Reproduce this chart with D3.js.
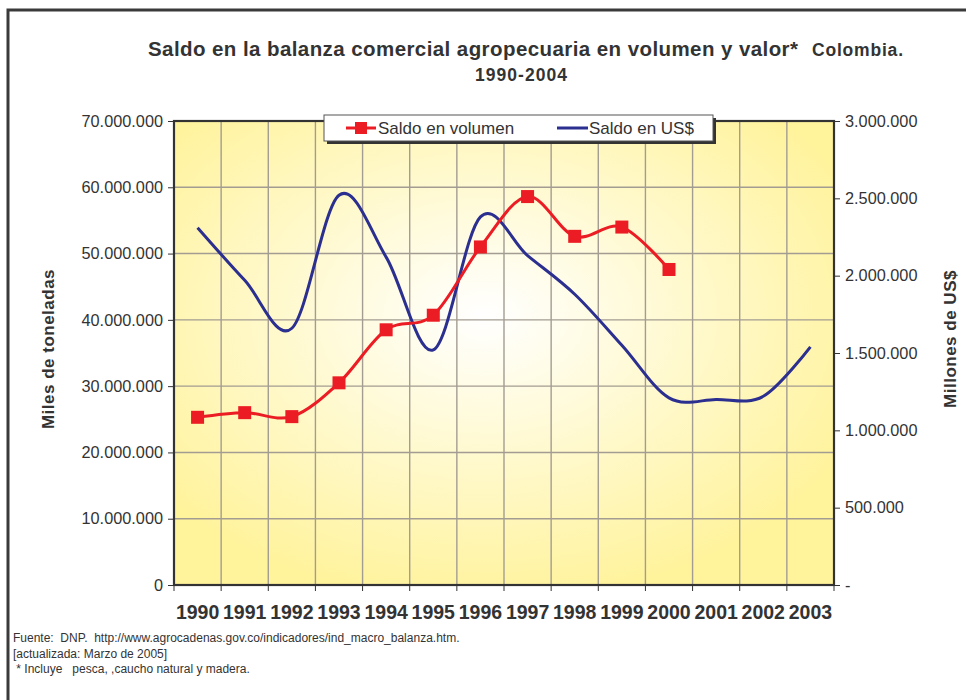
<!DOCTYPE html>
<html>
<head>
<meta charset="utf-8">
<script src="https://cdn.jsdelivr.net/npm/d3@7"></script>
<style>
  body { margin: 0; background: #fff; }
  svg { font-family: "Liberation Sans", Arial, sans-serif; }
</style>
</head>
<body>
<div id="chart"></div>
<script>
// data
const years = ["1990","1991","1992","1993","1994","1995","1996","1997","1998","1999","2000","2001","2002","2003"];
const volumen = [25300000, 26000000, 25400000, 30500000, 38500000, 40700000, 51000000, 58600000, 52600000, 54000000, 47600000];
const valorUS = [2310000, 1970000, 1660000, 2520000, 2120000, 1520000, 2380000, 2130000, 1880000, 1550000, 1210000, 1200000, 1220000, 1540000];
const leftTicks = [0, 10000000, 20000000, 30000000, 40000000, 50000000, 60000000, 70000000];
const rightTicks = [0, 500000, 1000000, 1500000, 2000000, 2500000, 3000000];

const width = 966, height = 700;
const margin = { top: 121, right: 132, bottom: 115, left: 174 };

const svg = d3.select("#chart").append("svg")
  .attr("width", width)
  .attr("height", height);

// outer frame (only top and left edges show)
svg.append("path")
  .attr("d", `M8,${height + 5} V10 H${width + 5}`)
  .attr("fill", "none")
  .attr("stroke", "#3a3a3a")
  .attr("stroke-width", 3);

// scales
const x = d3.scaleBand().domain(years).range([margin.left, width - margin.right]);
const yL = d3.scaleLinear().domain([0, 70000000]).range([height - margin.bottom, margin.top]);
const yR = d3.scaleLinear().domain([0, 3000000]).range([height - margin.bottom, margin.top]);

const fmt = d3.formatLocale({ decimal: ",", thousands: ".", grouping: [3], currency: ["", ""] }).format(",.0f");

// background gradient
const defs = svg.append("defs");
const grad = defs.append("radialGradient")
  .attr("id", "bg")
  .attr("cx", 0.47).attr("cy", 0.42).attr("r", 0.62);
grad.append("stop").attr("offset", "0%").attr("stop-color", "#ffffff");
grad.append("stop").attr("offset", "100%").attr("stop-color", "#fff39c");

const plotW = width - margin.left - margin.right;
const plotH = height - margin.top - margin.bottom;

svg.append("rect")
  .attr("x", margin.left).attr("y", margin.top)
  .attr("width", plotW).attr("height", plotH)
  .attr("fill", "url(#bg)");

// grid lines
svg.append("g")
  .selectAll("line")
  .data(leftTicks.slice(1, -1))
  .join("line")
  .attr("x1", margin.left).attr("x2", width - margin.right)
  .attr("y1", d => yL(d)).attr("y2", d => yL(d))
  .attr("stroke", "#a39c92").attr("stroke-width", 1.4);

svg.append("g")
  .selectAll("line")
  .data(years.slice(1))
  .join("line")
  .attr("x1", d => x(d)).attr("x2", d => x(d))
  .attr("y1", margin.top).attr("y2", height - margin.bottom)
  .attr("stroke", "#a39c92").attr("stroke-width", 1.4);

// plot frame
svg.append("rect")
  .attr("x", margin.left).attr("y", margin.top)
  .attr("width", plotW).attr("height", plotH)
  .attr("fill", "none")
  .attr("stroke", "#333").attr("stroke-width", 2.2);

// left axis
const axL = svg.append("g")
  .attr("transform", `translate(${margin.left},0)`)
  .call(d3.axisLeft(yL).tickValues(leftTicks).tickFormat(d => d === 0 ? "0" : fmt(d)).tickSize(6).tickPadding(5));
axL.select(".domain").remove();
axL.selectAll("line").attr("stroke", "#333");
axL.selectAll("text").attr("font-size", 16.3).attr("fill", "#333").attr("font-family", "Liberation Sans, Arial, sans-serif");

// right axis
const axR = svg.append("g")
  .attr("transform", `translate(${width - margin.right},0)`)
  .call(d3.axisRight(yR).tickValues(rightTicks).tickFormat(d => d === 0 ? "-" : fmt(d)).tickSize(6).tickPadding(5));
axR.select(".domain").remove();
axR.selectAll("line").attr("stroke", "#333");
axR.selectAll("text").attr("font-size", 16.3).attr("fill", "#333").attr("font-family", "Liberation Sans, Arial, sans-serif");

// bottom axis: ticks at band boundaries, labels centered
const axB = svg.append("g").attr("transform", `translate(0,${height - margin.bottom})`);
axB.selectAll("line")
  .data(years.concat(["end"]))
  .join("line")
  .attr("x1", (d, i) => margin.left + i * x.bandwidth())
  .attr("x2", (d, i) => margin.left + i * x.bandwidth())
  .attr("y1", 0).attr("y2", 6)
  .attr("stroke", "#333");
axB.selectAll("text")
  .data(years)
  .join("text")
  .attr("x", d => x(d) + x.bandwidth() / 2)
  .attr("y", 34)
  .attr("text-anchor", "middle")
  .attr("font-size", 19.5)
  .attr("font-weight", "bold")
  .attr("fill", "#333")
  .text(d => d);

// lines
const cx = (d, i) => x(years[i]) + x.bandwidth() / 2;

const lineUS = d3.line()
  .x(cx)
  .y(d => yR(d))
  .curve(d3.curveCardinal.tension(0));

svg.append("path")
  .datum(valorUS)
  .attr("d", lineUS)
  .attr("fill", "none")
  .attr("stroke", "#2b2f8f")
  .attr("stroke-width", 3);

const lineVol = d3.line()
  .x(cx)
  .y(d => yL(d))
  .curve(d3.curveCardinal.tension(0));

svg.append("path")
  .datum(volumen)
  .attr("d", lineVol)
  .attr("fill", "none")
  .attr("stroke", "#ec1c24")
  .attr("stroke-width", 3);

svg.append("g")
  .selectAll("rect")
  .data(volumen)
  .join("rect")
  .attr("x", (d, i) => cx(d, i) - 6.5)
  .attr("y", d => yL(d) - 6.5)
  .attr("width", 13).attr("height", 13)
  .attr("fill", "#ec1c24");

// legend
const leg = svg.append("g").attr("transform", "translate(324,115)");
leg.append("rect").attr("x", 3).attr("y", 3).attr("width", 389).attr("height", 26).attr("fill", "#333");
leg.append("rect").attr("x", 0).attr("y", 0).attr("width", 389).attr("height", 26)
  .attr("fill", "#fff").attr("stroke", "#555").attr("stroke-width", 1);
leg.append("line").attr("x1", 22).attr("x2", 52).attr("y1", 13).attr("y2", 13)
  .attr("stroke", "#ec1c24").attr("stroke-width", 3);
leg.append("rect").attr("x", 31).attr("y", 7).attr("width", 12).attr("height", 12).attr("fill", "#ec1c24");
leg.append("text").attr("x", 54).attr("y", 19).attr("font-size", 17).attr("fill", "#333").text("Saldo en volumen");
leg.append("line").attr("x1", 233).attr("x2", 264).attr("y1", 13).attr("y2", 13)
  .attr("stroke", "#2b2f8f").attr("stroke-width", 3);
leg.append("text").attr("x", 265).attr("y", 19).attr("font-size", 17).attr("fill", "#333").text("Saldo en US$");

// titles
const title = svg.append("text")
  .attr("x", 148).attr("y", 56)
  .attr("font-weight", "bold")
  .attr("fill", "#333");
title.append("tspan").attr("font-size", 20.5).attr("textLength", 650).attr("lengthAdjust", "spacing")
  .text("Saldo en la balanza comercial agropecuaria en volumen y valor*");
title.append("tspan").attr("x", 812).attr("font-size", 17.5).attr("textLength", 91).attr("lengthAdjust", "spacing")
  .text("Colombia.");

svg.append("text")
  .attr("x", 475).attr("y", 81)
  .attr("font-weight", "bold")
  .attr("font-size", 17.5)
  .attr("textLength", 92).attr("lengthAdjust", "spacing")
  .attr("fill", "#333")
  .text("1990-2004");

// axis titles
svg.append("text")
  .attr("transform", "translate(54,349) rotate(-90)")
  .attr("text-anchor", "middle")
  .attr("font-weight", "bold")
  .attr("font-size", 17)
  .attr("letter-spacing", 0.5)
  .attr("fill", "#333")
  .text("Miles de toneladas");

svg.append("text")
  .attr("transform", "translate(956,339) rotate(-90)")
  .attr("text-anchor", "middle")
  .attr("font-weight", "bold")
  .attr("font-size", 17)
  .attr("letter-spacing", 0.5)
  .attr("fill", "#333")
  .text("Millones de US$");

// footnotes
const notes = [
  "Fuente:  DNP.  http://www.agrocadenas.gov.co/indicadores/ind_macro_balanza.htm.",
  "[actualizada: Marzo de 2005]",
  " * Incluye   pesca, ,caucho natural y madera."
];
svg.append("g")
  .selectAll("text")
  .data(notes)
  .join("text")
  .attr("x", 13)
  .attr("y", (d, i) => 642 + i * 15.5)
  .attr("font-size", 12)
  .attr("fill", "#333")
  .style("white-space", "pre")
  .text(d => d);
</script>
</body>
</html>
